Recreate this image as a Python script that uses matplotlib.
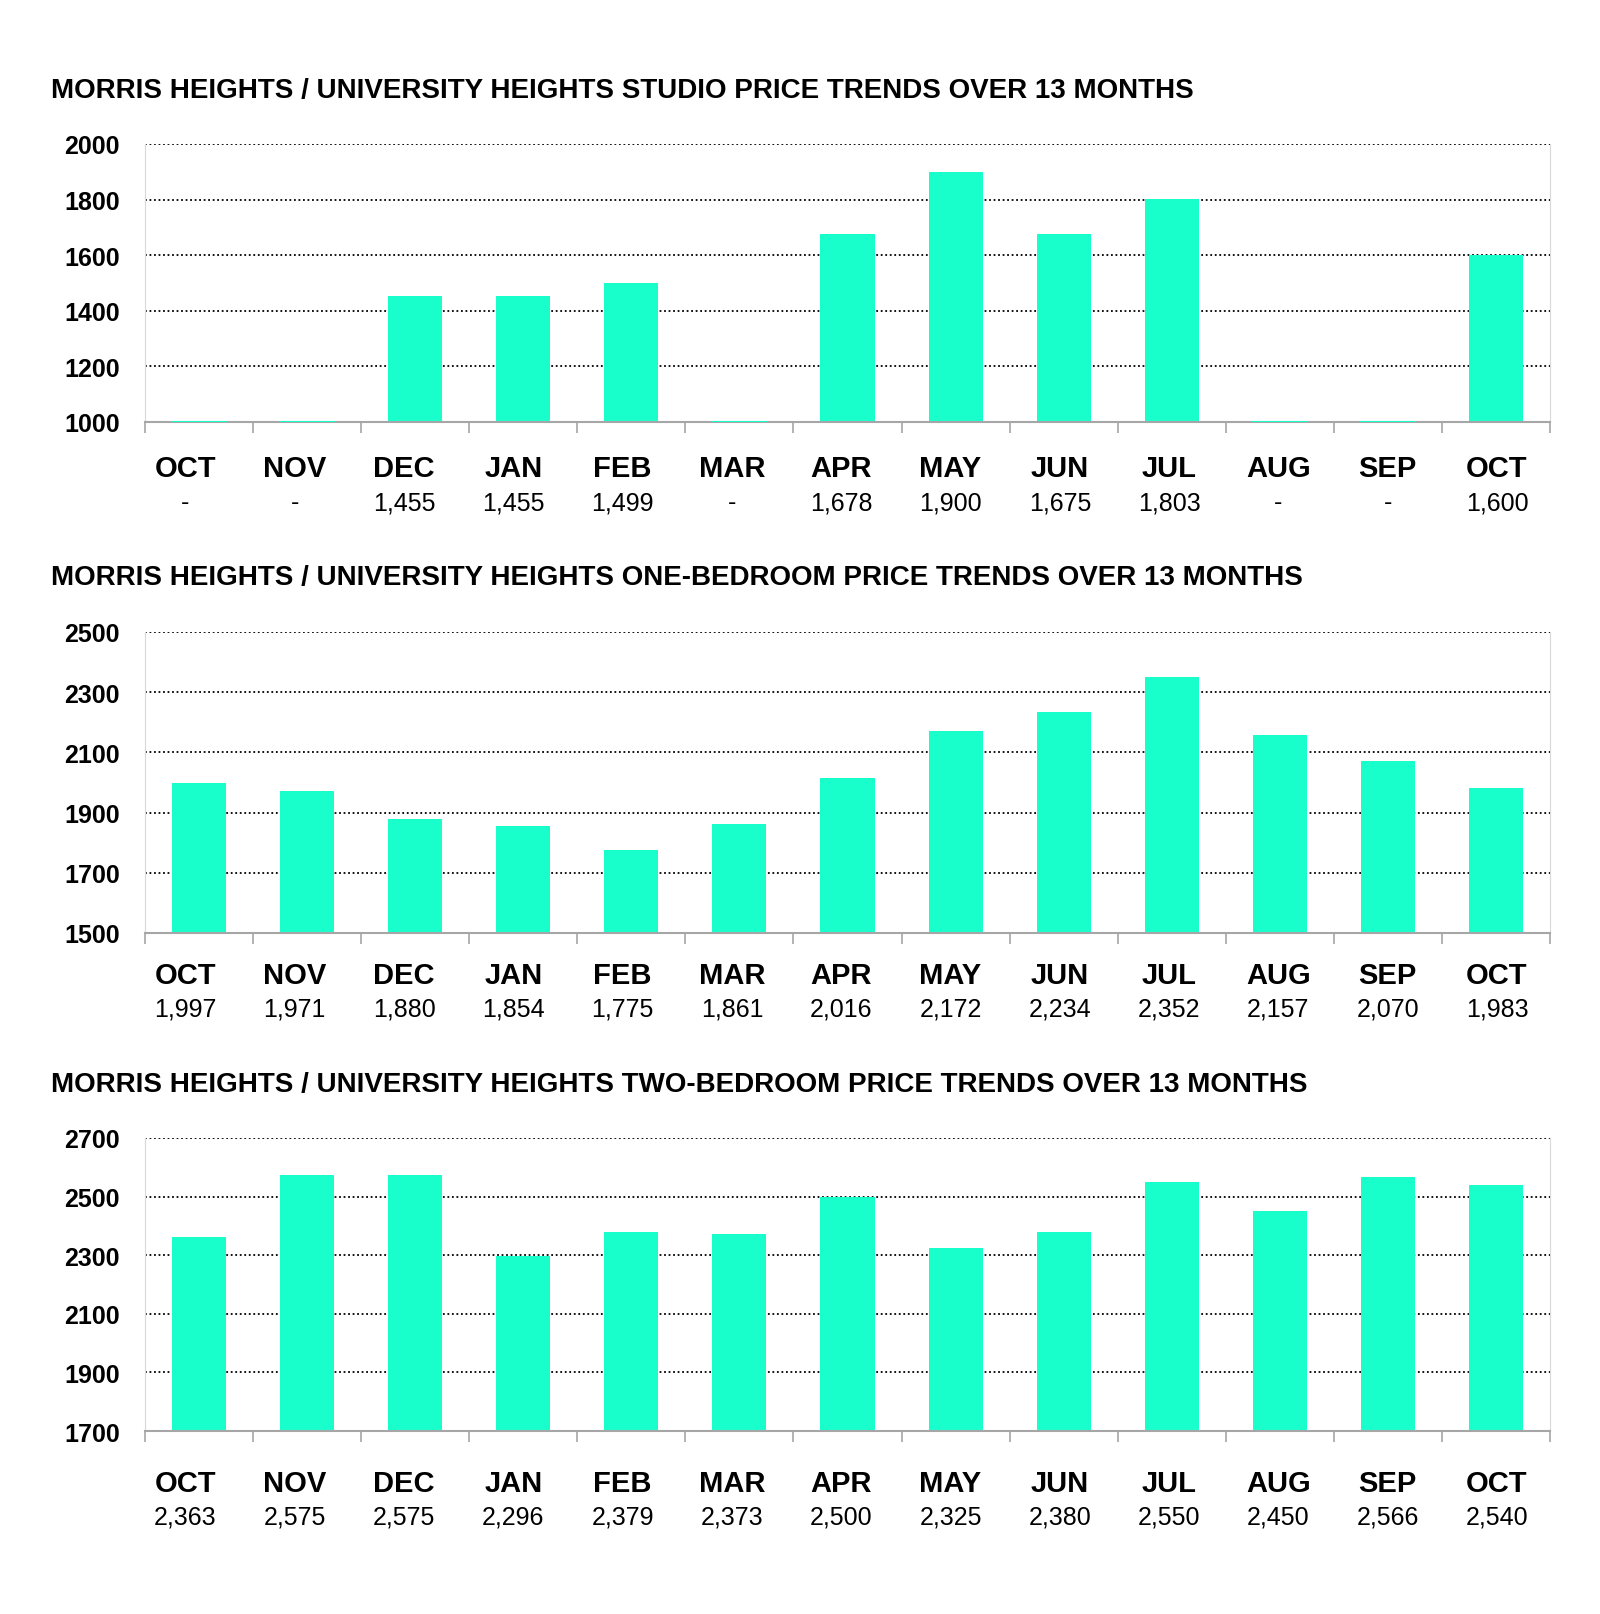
import matplotlib
matplotlib.use("Agg")
import matplotlib.pyplot as plt
import matplotlib.transforms as mtransforms
import numpy as np

plt.rcParams['font.family'] = ['Liberation Sans', 'DejaVu Sans']

months = ["OCT", "NOV", "DEC", "JAN", "FEB", "MAR", "APR",
          "MAY", "JUN", "JUL", "AUG", "SEP", "OCT"]

studio = [None, None, 1455, 1455, 1499, None, 1678, 1900, 1675, 1803, None, None, 1600]
one_bed = [1997, 1971, 1880, 1854, 1775, 1861, 2016, 2172, 2234, 2352, 2157, 2070, 1983]
two_bed = [2363, 2575, 2575, 2296, 2379, 2373, 2500, 2325, 2380, 2550, 2450, 2566, 2540]

titles = [
    "MORRIS HEIGHTS / UNIVERSITY HEIGHTS STUDIO PRICE TRENDS OVER 13 MONTHS",
    "MORRIS HEIGHTS / UNIVERSITY HEIGHTS ONE-BEDROOM PRICE TRENDS OVER 13 MONTHS",
    "MORRIS HEIGHTS / UNIVERSITY HEIGHTS TWO-BEDROOM PRICE TRENDS OVER 13 MONTHS",
]
y_ticks = [
    [1000, 1200, 1400, 1600, 1800, 2000],
    [1500, 1700, 1900, 2100, 2300, 2500],
    [1700, 1900, 2100, 2300, 2500, 2700],
]

BAR_COLOR = "#19FFCC"
W, H = 1600, 1615
AX_L, AX_R = 145, 1550

# panel layout in pixels: (top, bottom, title_y, month_y, value_y)
panels = [
    (145, 423, 91, 469, 503),
    (633, 934, 578, 976, 1010),
    (1139, 1432, 1085, 1484, 1518),
]

# the month/value table under each chart is spaced a bit differently from the bars
label_x = np.linspace((185.5 - AX_L) / (AX_R - AX_L), (1497 - AX_L) / (AX_R - AX_L), len(months))

fig = plt.figure(figsize=(16, 16.15), dpi=100)

for data, title, ticks, (top, bot, ty, my, vy) in zip(
        [studio, one_bed, two_bed], titles, y_ticks, panels):
    ax = fig.add_axes([AX_L / W, 1 - bot / H, (AX_R - AX_L) / W, (bot - top) / H])
    x = list(range(len(months)))
    base = ticks[0]
    heights = [(v - base) if v is not None else 0 for v in data]
    ax.bar(x, heights, width=0.5, bottom=base, color=BAR_COLOR, zorder=3)
    # faint stubs where there is no data
    for i, v in enumerate(data):
        if v is None:
            ax.plot([i - 0.25, i + 0.25], [base, base], color=BAR_COLOR, lw=1.5, zorder=6)

    ax.set_xlim(-0.5, len(months) - 0.5)
    ax.set_ylim(ticks[0], ticks[-1])
    ax.set_yticks(ticks)
    ax.set_yticklabels([str(t) for t in ticks], fontsize=18, fontweight='bold')
    ax.tick_params(axis='y', length=0, pad=18)
    ax.set_xticks([i - 0.5 for i in range(len(months) + 1)])
    ax.set_xticklabels([])
    ax.tick_params(axis='x', length=8, color='#a6a6a6', width=1.2, direction='out')

    ax.grid(axis='y', linestyle=(0, (1, 1.5)), color='black', linewidth=1.3, zorder=1)
    ax.spines['top'].set_visible(False)
    ax.spines['left'].set_color('#d9d9d9')
    ax.spines['right'].set_color('#d9d9d9')
    ax.spines['bottom'].set_color('#a6a6a6')
    ax.spines['bottom'].set_linewidth(1.5)
    ax.spines['bottom'].set_zorder(5)

    trans = mtransforms.blended_transform_factory(ax.transAxes, fig.transFigure)
    for lx, m, v in zip(label_x, months, data):
        ax.text(lx, 1 - my / H, m, transform=trans, ha='center', va='center',
                fontsize=21, fontweight='bold')
        label = f"{v:,}" if v is not None else "-"
        ax.text(lx, 1 - vy / H, label, transform=trans, ha='center', va='center',
                fontsize=18)

    fig.text(51 / W, 1 - ty / H, title, ha='left', va='center',
             fontsize=20, fontweight='bold')

fig.savefig("out.png", dpi=100, facecolor='white')
